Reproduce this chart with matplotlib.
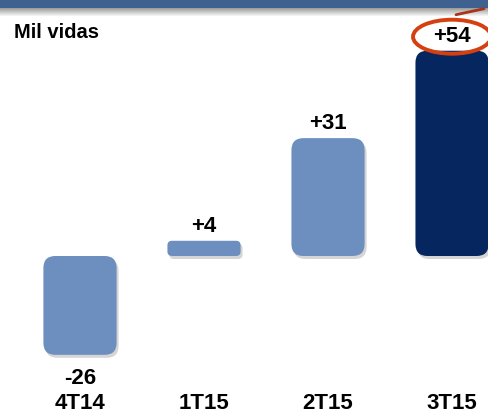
import numpy as np
import matplotlib.pyplot as plt
from matplotlib.patches import FancyBboxPatch, Ellipse
from matplotlib.transforms import blended_transform_factory

plt.rcParams['font.family'] = ['Liberation Sans', 'DejaVu Sans']

# data
categories = ['4T14', '1T15', '2T15', '3T15']
values = [-26, 4, 31, 54]
labels = ['-26', '+4', '+31', '+54']
colors = ['#6c8fbf', '#6c8fbf', '#6c8fbf', '#062660']

W, H = 488, 414
fig = plt.figure(figsize=(W / 100, H / 100), dpi=100)
ax = fig.add_axes([0, 0, 1, 1])
ax.set_xlim(-0.645, 3.29)
ax.set_ylim(-41.3, 67.6)
ax.axis('off')
ax.set_zorder(2)

# pixel sizes of one data unit
px_x = W / (3.29 + 0.645)
px_y = H / (67.6 + 41.3)
aspect = px_x / px_y
bar_w = 0.59

for i, (v, c) in enumerate(zip(values, colors)):
    h_px = abs(v) * px_y
    r_px = min(12, 0.3 * h_px)
    y0 = min(0, v)
    # drop shadow
    sh = FancyBboxPatch((i - bar_w / 2 + 2 / px_x, y0 - 3 / px_y), bar_w, abs(v),
                        boxstyle=f"round,pad=0,rounding_size={r_px / px_x}",
                        mutation_aspect=aspect, fc='#888888', ec='none',
                        alpha=0.35, zorder=1)
    ax.add_patch(sh)
    p = FancyBboxPatch((i - bar_w / 2, y0), bar_w, abs(v),
                       boxstyle=f"round,pad=0,rounding_size={r_px / px_x}",
                       mutation_aspect=aspect, fc=c, ec='none', zorder=2)
    ax.add_patch(p)
    off = 11 if v > 0 else -16
    ax.annotate(labels[i], (i, v), xytext=(0, off), textcoords='offset points',
                ha='center', va='center', fontsize=16, fontweight='bold',
                zorder=4)

trans = blended_transform_factory(ax.transData, ax.transAxes)
for i, cat in enumerate(categories):
    ax.text(i, 10 / H, cat, transform=trans, ha='center', va='center',
            fontsize=16, fontweight='bold')

ax.text(14 / W, 1 - 33 / H, 'Mil vidas', transform=ax.transAxes,
        ha='left', va='center', fontsize=14.5, fontweight='bold')

# red circle around the last label
ell = Ellipse((3, 54 + 14 / px_y), 78 / px_x, 34 / px_y,
              fill=False, ec='#d4400f', lw=2.8, zorder=5)
ax.add_patch(ell)
ax.plot([3 + 4 / px_x, 3 + 32 / px_x], [54 + 36 / px_y, 54 + 42 / px_y],
        color='#a8341a', lw=2.0, solid_capstyle='round', zorder=5)

# top band with soft shadow
band = fig.add_axes([0, 1 - 18 / H, 1, 18 / H])
band.set_zorder(1)
grad = np.ones((18, 1, 3))
top = np.array([0x3f, 0x61, 0x90]) / 255
for k in range(18):
    if k < 9:
        grad[k, 0] = top
    else:
        t = (k - 9) / 8
        grad[k, 0] = (0.62 + 0.38 * t) * np.ones(3)
band.imshow(grad, aspect='auto', extent=[0, 1, 0, 1])
band.axis('off')

fig.savefig('out.png', dpi=100)
